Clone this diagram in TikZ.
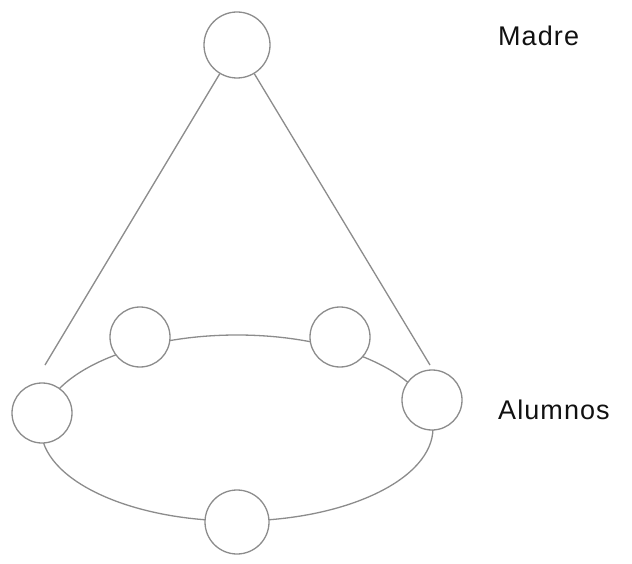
\documentclass[tikz,border=0pt]{standalone}
\usepackage{fontspec}
\setsansfont{Liberation Sans}[LetterSpace=4]
\usetikzlibrary{positioning}
\definecolor{pencil}{HTML}{8C8C8C}
\definecolor{ink}{HTML}{111111}
\begin{document}
\begin{tikzpicture}[
 x=1pt,y=-1pt,font=\sffamily,
 person/.style={circle,draw=pencil,fill=white,line width=1.3pt,minimum size=60pt,inner sep=0pt},
 label/.style={font=\sffamily\fontsize{27}{30}\selectfont,text=ink,anchor=west,inner sep=0pt},
 link/.style={draw=pencil,line width=1.3pt}
]
\useasboundingbox[fill=white] (0,0) rectangle (632,564);

% Mother on top.
\node[person,minimum size=66pt] (madre) at (237,45) {};
\coordinate (pieL) at (45,365);
\coordinate (pieR) at (430,365);
\draw[link] (madre) -- (pieL);
\draw[link] (madre) -- (pieR);

% Ring of pupils.
\draw[link] (237,428) ellipse (196 and 93);
\node[person] (al1) at (42,413) {};
\node[person] (al2) at (140,337) {};
\node[person] (al3) at (340,337) {};
\node[person] (al4) at (432,400) {};
\node[person,minimum size=64pt] (al5) at (237,522) {};

% Labels.
\node[label] (tmadre) at (498,36) {Madre};
\node[label] (talumnos) at (498,410) {Alumnos};
\end{tikzpicture}
\end{document}
